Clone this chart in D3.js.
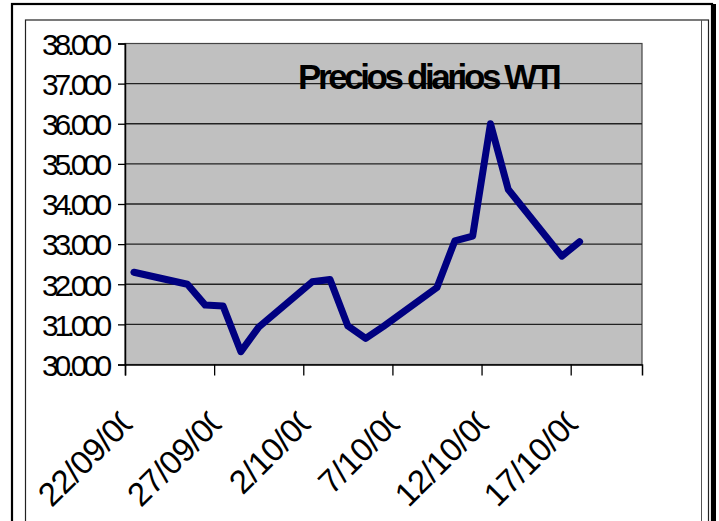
<!DOCTYPE html>
<html>
<head>
  <meta charset="utf-8">
  <title>Precios diarios WTI</title>
  <script src="https://cdn.jsdelivr.net/npm/d3@7"></script>
  <style>
    body { margin: 0; background: #fff; }
    text { font-family: "Liberation Sans", Arial, sans-serif; }
  </style>
</head>
<body>
<div id="chart"></div>
<script>
  // daily WTI prices, sept-oct 2000 (weekdays only)
  var dates = ["2000-09-22", "2000-09-25", "2000-09-26", "2000-09-27", "2000-09-28", "2000-09-29",
               "2000-10-02", "2000-10-03", "2000-10-04", "2000-10-05", "2000-10-06",
               "2000-10-09", "2000-10-10", "2000-10-11", "2000-10-12", "2000-10-13",
               "2000-10-16", "2000-10-17"];
  var prices = [32.30, 32.00, 31.48, 31.46, 30.32, 30.93,
                32.06, 32.12, 30.96, 30.65, 30.95,
                31.92, 33.08, 33.20, 36.00, 34.36,
                32.70, 33.06];
  var tickDates = ["2000-09-22", "2000-09-27", "2000-10-02", "2000-10-07", "2000-10-12", "2000-10-17"];
  var tickLabels = ["22/09/00", "27/09/00", "2/10/00", "7/10/00", "12/10/00", "17/10/00"];
  var yTicks = [30, 31, 32, 33, 34, 35, 36, 37, 38];
  var title = "Precios diarios WTI";

  var w = 719, h = 521;
  var pLeft = 125, pRight = 642, pTop = 43.5, pBottom = 364.5;

  var parse = d3.timeParse("%Y-%m-%d");

  var svg = d3.select('#chart').append('svg')
      .attr('width', w)
      .attr('height', h);

  // frames
  svg.append('rect').attr('x', 12).attr('y', 4).attr('width', 700).attr('height', 540)
      .attr('fill', 'none').attr('stroke', '#000').attr('stroke-width', 2.2);
  svg.append('rect').attr('x', 711).attr('y', 4).attr('width', 5).attr('height', 540).attr('fill', '#000');
  svg.append('rect').attr('x', 25.5).attr('y', 20).attr('width', 683).attr('height', 540)
      .attr('fill', 'none').attr('stroke', '#222').attr('stroke-width', 1.2);
  svg.append('line').attr('x1', 701.5).attr('x2', 701.5).attr('y1', 20).attr('y2', 540)
      .attr('stroke', '#555').attr('stroke-width', 1);

  var x = d3.scaleTime()
      .domain([parse("2000-09-22"), parse("2000-10-21")])
      .range([pLeft, pRight]);
  var y = d3.scaleLinear()
      .domain([30, 38])
      .range([pBottom, pTop]);

  // plot area
  svg.append('rect')
      .attr('x', pLeft).attr('y', pTop)
      .attr('width', pRight - pLeft).attr('height', pBottom - pTop)
      .attr('fill', '#c0c0c0')
      .attr('stroke', '#444').attr('stroke-width', 1.2);

  // gridlines
  svg.append('g').selectAll('line')
      .data(yTicks.slice(1, -1))
      .enter().append('line')
      .attr('x1', pLeft).attr('x2', pRight)
      .attr('y1', function(d){ return y(d); })
      .attr('y2', function(d){ return y(d); })
      .attr('stroke', '#222').attr('stroke-width', 1.3);

  // y axis
  var yAxis = d3.axisLeft(y)
      .tickValues(yTicks)
      .tickSize(7)
      .tickFormat(d3.format(".3f"));
  var gy = svg.append('g')
      .attr('transform', 'translate(' + pLeft + ',0)')
      .call(yAxis);
  gy.select('.domain').attr('stroke', '#000').attr('stroke-width', 1.5);
  gy.selectAll('.tick line').attr('stroke', '#000').attr('stroke-width', 1.3);
  gy.selectAll('.tick text')
      .attr('x', -17)
      .attr('dy', '0.36em')
      .attr('fill', '#000')
      .style('font-family', '"Liberation Sans", Arial, sans-serif')
      .style('font-size', '30px')
      .style('letter-spacing', '-4.3px');

  // x axis
  var xAxis = d3.axisBottom(x)
      .tickValues(tickDates.map(parse))
      .tickSize(11)
      .tickFormat('');
  var gx = svg.append('g')
      .attr('transform', 'translate(0,' + pBottom + ')')
      .call(xAxis);
  gx.select('.domain').attr('stroke', '#000').attr('stroke-width', 1.5);
  gx.selectAll('.tick line').attr('stroke', '#000').attr('stroke-width', 1.3);

  // rotated, clipped date labels
  svg.append('defs').append('clipPath')
      .attr('id', 'lblclip')
      .append('rect')
      .attr('x', -400).attr('y', -100)
      .attr('width', 400 - 38).attr('height', 200);

  var labels = svg.append('g').selectAll('g.lbl')
      .data(tickDates)
      .enter().append('g')
      .classed('lbl', true)
      .attr('transform', function(d){ return 'translate(' + x(parse(d)) + ',' + pBottom + ') rotate(-45)'; });
  labels.append('text')
      .attr('clip-path', 'url(#lblclip)')
      .attr('x', -29)
      .attr('y', 50)
      .attr('text-anchor', 'end')
      .attr('fill', '#000')
      .style('font-size', '33px')
      .style('letter-spacing', '-0.5px')
      .text(function(d, i){ return tickLabels[i]; });

  // price line, points in the middle of each day
  var line = d3.line()
      .x(function(d){ return x(d3.timeHour.offset(parse(d.date), 12)); })
      .y(function(d){ return y(d.value); });

  var series = dates.map(function(d, i){ return {date: d, value: prices[i]}; });

  svg.append('path')
      .datum(series)
      .attr('d', line)
      .attr('fill', 'none')
      .attr('stroke', '#000080')
      .attr('stroke-width', 7)
      .attr('stroke-linejoin', 'round')
      .attr('stroke-linecap', 'round');

  // title
  svg.append('text')
      .attr('x', 298)
      .attr('y', 89)
      .attr('fill', '#000')
      .style('font-size', '35px')
      .style('font-weight', 'bold')
      .style('letter-spacing', '-3.4px')
      .text(title);
</script>
</body>
</html>
